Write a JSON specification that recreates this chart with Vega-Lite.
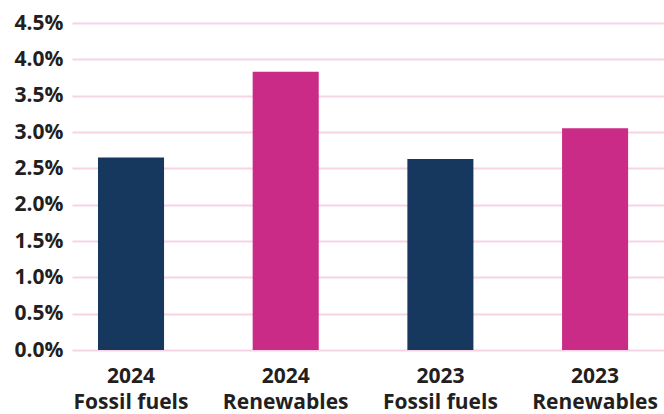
{
  "$schema": "https://vega.github.io/schema/vega-lite/v6.json",
  "width": 592,
  "height": 327,
  "autosize": {"type": "none"},
  "padding": {"left": 72, "top": 23, "right": 0, "bottom": 64},
  "background": "white",
  "data": {
    "values": [
      {"label": "2024\nFossil fuels", "type": "Fossil fuels", "value": 0.0265},
      {"label": "2024\nRenewables", "type": "Renewables", "value": 0.0383},
      {"label": "2023\nFossil fuels", "type": "Fossil fuels", "value": 0.0263},
      {"label": "2023\nRenewables", "type": "Renewables", "value": 0.0305}
    ]
  },
  "mark": {"type": "bar"},
  "encoding": {
    "x": {
      "field": "label",
      "type": "nominal",
      "sort": null,
      "scale": {"paddingInner": 0.573, "paddingOuter": 0.2, "align": 0.42},
      "axis": {
        "title": null,
        "labelAngle": 0,
        "labelExpr": "split(datum.label, '\\n')",
        "labelFont": "Open Sans",
        "labelFontWeight": "bold",
        "labelFontSize": 21,
        "labelLineHeight": 26,
        "labelColor": "#231f20",
        "labelPadding": 15,
        "ticks": false,
        "domain": false,
        "grid": false
      }
    },
    "y": {
      "field": "value",
      "type": "quantitative",
      "scale": {"domain": [0, 0.045], "nice": false},
      "axis": {
        "title": null,
        "values": [0, 0.005, 0.01, 0.015, 0.02, 0.025, 0.03, 0.035, 0.04, 0.045],
        "format": ".1%",
        "labelFont": "Open Sans",
        "labelFontWeight": "bold",
        "labelFontSize": 21,
        "labelColor": "#231f20",
        "labelPadding": 9,
        "ticks": false,
        "domain": false,
        "grid": true,
        "gridColor": "#f6d3e5",
        "gridWidth": 2
      }
    },
    "color": {
      "field": "type",
      "type": "nominal",
      "scale": {"domain": ["Fossil fuels", "Renewables"], "range": ["#17385e", "#ca2b86"]},
      "legend": null
    }
  },
  "config": {"view": {"stroke": null}}
}
